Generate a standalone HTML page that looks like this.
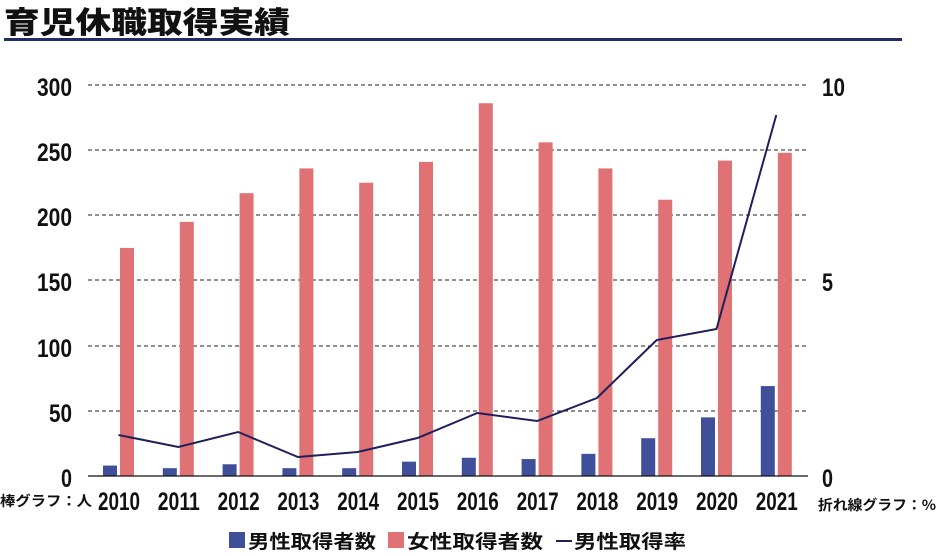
<!DOCTYPE html>
<html><head><meta charset="utf-8"><style>
body{margin:0;background:#fff;width:937px;height:551px;overflow:hidden}
text{font-family:"Liberation Sans Narrow","Liberation Sans","Noto Sans CJK JP",sans-serif;fill:#111}
.n{font-weight:bold}
</style></head><body>
<svg width="937" height="551" viewBox="0 0 937 551" xmlns="http://www.w3.org/2000/svg">
<text x="4" y="33" font-size="30" font-weight="900" style="font-family:'Noto Sans CJK JP',sans-serif" textLength="286" lengthAdjust="spacingAndGlyphs">育児休職取得実績</text>
<rect x="4" y="38" width="898" height="3" fill="#1f2f66"/>
<g stroke="#222" stroke-width="1" stroke-dasharray="4,3">
<line x1="88" x2="808" y1="85" y2="85"/><line x1="88" x2="808" y1="150" y2="150"/>
<line x1="88" x2="808" y1="215" y2="215"/><line x1="88" x2="808" y1="280" y2="280"/>
<line x1="88" x2="808" y1="346" y2="346"/><line x1="88" x2="808" y1="411" y2="411"/>
</g>
<g font-size="25" text-anchor="end" class="n">
<text x="72" y="96" textLength="35" lengthAdjust="spacingAndGlyphs">300</text>
<text x="72" y="161" textLength="35" lengthAdjust="spacingAndGlyphs">250</text>
<text x="72" y="226" textLength="35" lengthAdjust="spacingAndGlyphs">200</text>
<text x="72" y="291" textLength="35" lengthAdjust="spacingAndGlyphs">150</text>
<text x="72" y="357" textLength="35" lengthAdjust="spacingAndGlyphs">100</text>
<text x="72" y="422" textLength="23" lengthAdjust="spacingAndGlyphs">50</text>
<text x="72" y="487" textLength="11" lengthAdjust="spacingAndGlyphs">0</text>
</g>
<g font-size="25" class="n"><text x="822" y="96" textLength="23" lengthAdjust="spacingAndGlyphs">10</text><text x="822" y="291" textLength="11" lengthAdjust="spacingAndGlyphs">5</text><text x="822" y="487" textLength="11" lengthAdjust="spacingAndGlyphs">0</text></g>
<g id="bars"></g>
<line x1="88" x2="808" y1="476" y2="476" stroke="#111" stroke-width="1.2"/>
<polyline id="ln" fill="none" stroke="#1f1f5c" stroke-width="2"/>
<g font-size="25" text-anchor="middle" id="xl" class="n"></g>
<text x="0" y="506" font-size="14" font-weight="bold" style="font-family:'Noto Sans CJK JP',sans-serif" textLength="92" lengthAdjust="spacingAndGlyphs">棒グラフ：人</text>
<text x="818" y="510" font-size="14" font-weight="bold" style="font-family:'Noto Sans CJK JP',sans-serif" textLength="118" lengthAdjust="spacingAndGlyphs">折れ線グラフ：%</text>
<rect x="229" y="532" width="16" height="16" fill="#3f4f99"/>
<text x="248" y="548" font-size="19" font-weight="bold" style="font-family:'Noto Sans CJK JP',sans-serif" textLength="128" lengthAdjust="spacingAndGlyphs">男性取得者数</text>
<rect x="388" y="532" width="16" height="16" fill="#e07174"/>
<text x="407" y="548" font-size="19" font-weight="bold" style="font-family:'Noto Sans CJK JP',sans-serif" textLength="136" lengthAdjust="spacingAndGlyphs">女性取得者数</text>
<line x1="556" x2="572" y1="541" y2="541" stroke="#1f1f5c" stroke-width="2"/>
<text x="574" y="548" font-size="19" font-weight="bold" style="font-family:'Noto Sans CJK JP',sans-serif" textLength="112" lengthAdjust="spacingAndGlyphs">男性取得率</text>
</svg>
<script>
var f=[175,195,217,236,225,241,286,256,236,212,242,248],m=[8,6,9,6,6,11,14,13,17,29,45,69],
ly=[435,447,432,457,452,438,413,421,398,340,329,115],k=391/300,ns="http://www.w3.org/2000/svg",
b=document.getElementById('bars'),xl=document.getElementById('xl'),pts=[];
function r(x,v,c){var e=document.createElementNS(ns,'rect');e.setAttribute('x',x);e.setAttribute('y',476-v*k);e.setAttribute('width',14);e.setAttribute('height',v*k);e.setAttribute('fill',c);b.appendChild(e);}
for(var i=0;i<12;i++){var x=103+i*59.8;
r(x,m[i],'#3f4f99');r(x+17,f[i],'#e07174');
pts.push((x+15.5)+','+ly[i]);
var t=document.createElementNS(ns,'text');t.setAttribute('x',x+16);t.setAttribute('y',510);t.setAttribute('textLength',42);t.setAttribute('lengthAdjust','spacingAndGlyphs');t.textContent=2010+i;xl.appendChild(t);}
document.getElementById('ln').setAttribute('points',pts.join(' '));
</script>
</body></html>
